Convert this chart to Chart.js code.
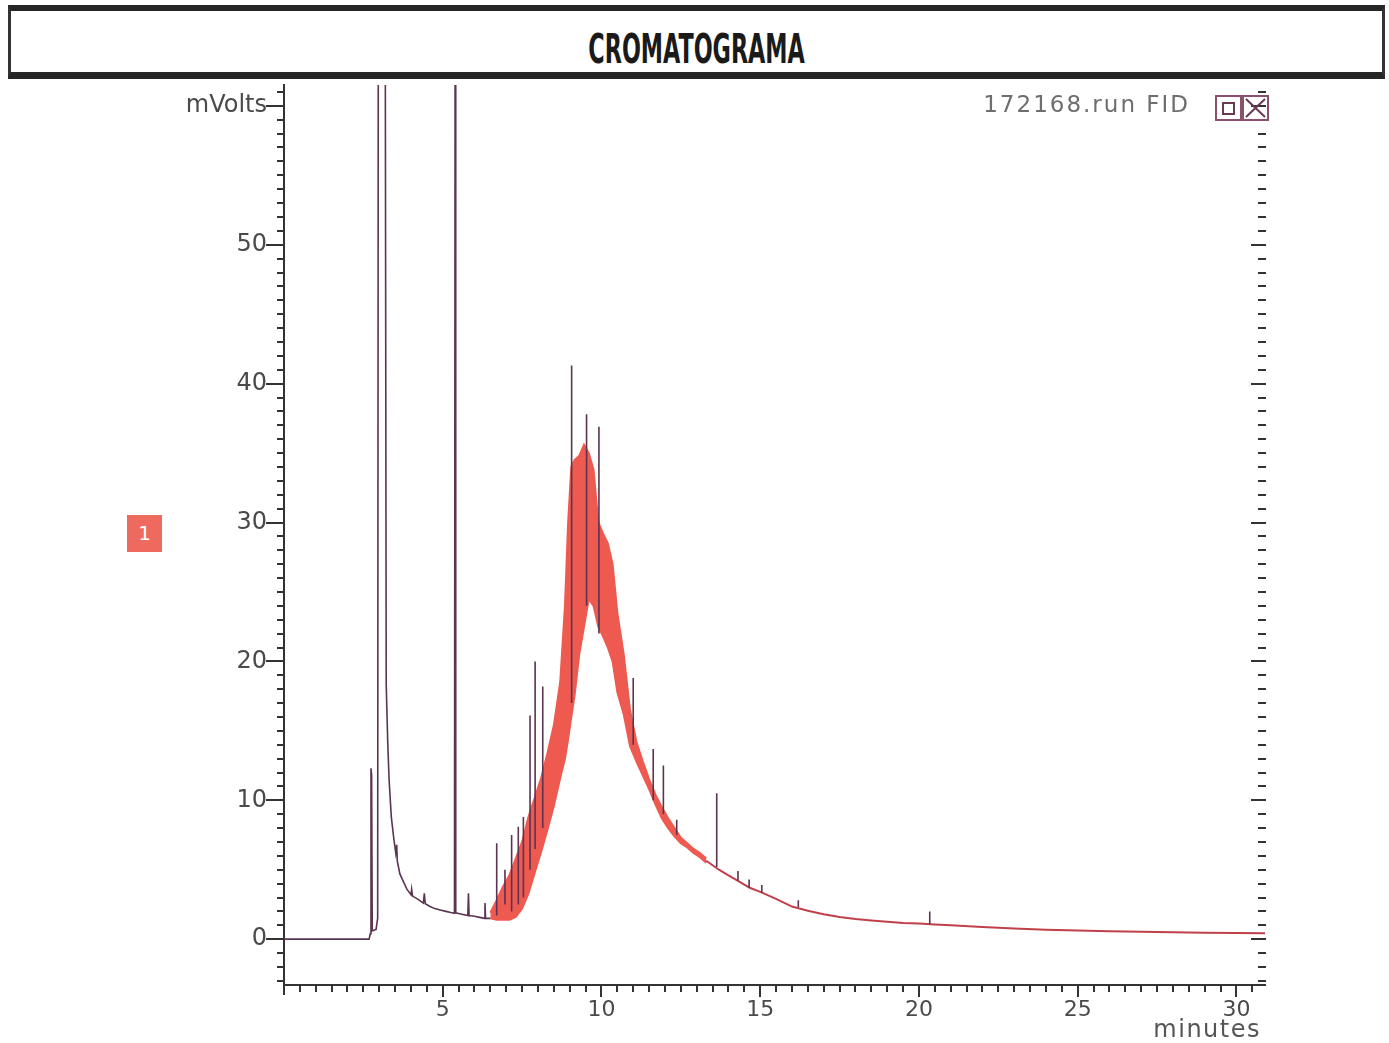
<!DOCTYPE html>
<html>
<head>
<meta charset="utf-8">
<title>Cromatograma</title>
<script src="https://cdn.jsdelivr.net/npm/chart.js@4.4.0/dist/chart.umd.min.js"></script>
<style>
  body { margin: 0; background: #fff; }
  #wrap { position: relative; width: 1389px; height: 1043px; overflow: hidden; }
  #chart { position: absolute; left: 0; top: 0; }
  .titlebox {
    position: absolute; left: 8px; top: 5px; width: 1371px; height: 61px;
    border-top: 6px solid #262626; border-bottom: 7px solid #262626;
    border-left: 3px solid #333; border-right: 3px solid #333;
    text-align: center; background: #fff;
  }
  .titlebox span {
    display: inline-block; margin-top: 15px;
    font-family: "Liberation Sans Narrow", "DejaVu Sans Condensed", sans-serif;
    font-weight: bold; font-size: 40px; color: #1a1a1a;
    transform: scaleX(0.62);
  }
  .runname {
    position: absolute; right: 199px; top: 91px; letter-spacing: 2px;
    font-family: "DejaVu Sans", sans-serif; font-size: 23px; color: #6e6e6e;
  }
  .icons { position: absolute; left: 1215px; top: 95px; }
  .legendbox {
    position: absolute; left: 127px; top: 515px; width: 35px; height: 37px;
    background: #ef6a5e; color: #fff; text-align: center;
    font-family: "DejaVu Sans", sans-serif; font-size: 20px; line-height: 37px;
  }
  .xunit {
    position: absolute; right: 128px; top: 1015px; letter-spacing: 1.5px;
    font-family: "DejaVu Sans", sans-serif; font-size: 24px; color: #555;
  }
</style>
</head>
<body>
<div id="wrap">
  <canvas id="chart" width="1389" height="1043"></canvas>
  <div class="titlebox"><span>CROMATOGRAMA</span></div>
  <div class="runname">172168.run FID</div>
  <div class="icons">
    <svg width="54" height="27" viewBox="0 0 54 27">
      <rect x="1" y="1" width="25" height="24" fill="none" stroke="#8a5070" stroke-width="2"/>
      <rect x="28" y="1" width="25" height="24" fill="none" stroke="#8a5070" stroke-width="2"/>
      <rect x="8" y="8" width="11" height="11" fill="none" stroke="#6a3a55" stroke-width="2"/>
      <path d="M31 4 L50 22 M50 4 L31 22" stroke="#6a3a55" stroke-width="2"/>
    </svg>
  </div>
  <div class="legendbox">1</div>
  <div class="xunit">minutes</div>
</div>
<script>
// early part of the trace (solvent peaks), minutes / mVolts
const traceTime = [0, 2.68, 2.72, 2.74, 2.76, 2.78, 2.9, 2.95, 2.97, 3.19, 3.22, 3.27, 3.31, 3.38, 3.45, 3.52, 3.55, 3.57, 3.65, 3.75, 3.87, 4.0, 4.02, 4.05, 4.2, 4.39, 4.42, 4.45, 4.6, 4.75, 4.92, 5.1, 5.25, 5.37, 5.39, 5.41, 5.6, 5.79, 5.81, 5.83, 6.0, 6.2, 6.31, 6.33, 6.35, 6.5];
const traceMv   = [0, 0, 0.4, 12.3, 11.8, 0.6, 0.7, 1.5, 65, 65, 18.3, 14, 11.5, 8.8, 7.4, 6.2, 6.8, 5.6, 4.7, 4.2, 3.6, 3.2, 3.6, 3.1, 2.9, 2.6, 3.3, 2.55, 2.35, 2.2, 2.1, 2.0, 1.92, 1.87, 65, 1.9, 1.8, 1.7, 3.3, 1.7, 1.65, 1.55, 1.5, 2.6, 1.5, 1.5];

// unresolved hump: upper and lower edge of the red band
const bandTime = [6.5, 6.7, 6.9, 7.1, 7.3, 7.5, 7.7, 7.9, 8.1, 8.3, 8.5, 8.7, 8.85, 8.95, 9.05, 9.15, 9.3, 9.45, 9.6, 9.75, 9.9, 10.05, 10.2, 10.35, 10.5, 10.7, 10.9, 11.1, 11.3, 11.5, 11.7, 11.9, 12.1, 12.3, 12.5, 12.7, 12.9, 13.1, 13.3];
const bandTop  = [1.9, 2.8, 3.8, 4.6, 5.8, 7.0, 8.8, 10.2, 11.6, 13.4, 15.4, 18.5, 24.0, 30.0, 34.0, 34.5, 34.8, 35.6, 35.0, 33.8, 30.0, 29.2, 28.5, 27.0, 23.5, 20.5, 16.5, 14.2, 12.8, 11.5, 10.4, 9.5, 8.7, 8.0, 7.3, 6.9, 6.5, 6.2, 5.8];
const bandLow  = [1.5, 1.4, 1.4, 1.4, 1.6, 2.2, 3.3, 4.8, 6.3, 7.9, 9.6, 11.6, 13.0, 14.4, 16.0, 17.5, 20.5, 22.5, 24.5, 24.0, 22.5, 21.8, 21.0, 20.0, 17.8, 16.2, 13.9, 12.8, 11.8, 10.8, 9.7, 8.7, 8.0, 7.4, 6.9, 6.6, 6.2, 5.9, 5.5];

// decaying baseline after the hump
const tailTime = [13.3, 13.7, 14.0, 14.3, 14.67, 15.0, 15.5, 16.0, 16.5, 17.0, 17.5, 18.0, 18.5, 19.0, 19.5, 20.0, 20.5, 21.0, 22.0, 23.0, 24.0, 25.0, 26.0, 27.0, 28.0, 29.0, 30.0, 30.9];
const tailMv   = [5.65, 5.0, 4.6, 4.2, 3.7, 3.4, 2.9, 2.35, 2.05, 1.8, 1.6, 1.45, 1.35, 1.25, 1.17, 1.12, 1.06, 1.0, 0.88, 0.76, 0.68, 0.62, 0.57, 0.53, 0.5, 0.47, 0.44, 0.42];

// single resolved peaks on top of the hump
const spikeTime = [6.70, 6.96, 7.17, 7.38, 7.54, 7.75, 7.91, 8.15, 9.06, 9.53, 9.92, 11.0, 11.63, 11.95, 12.37, 13.63, 14.3, 14.65, 15.05, 16.2, 20.34];
const spikeBase = [1.7, 2.5, 2.0, 2.5, 3.0, 5.0, 6.5, 8.0, 17, 24, 22, 14, 10, 9, 7.5, 5.2, 4.2, 3.7, 3.35, 2.3, 1.1];
const spikeTop  = [6.9, 5.0, 7.5, 8.1, 8.8, 16.1, 20.0, 18.2, 41.3, 37.8, 36.9, 18.8, 13.7, 12.5, 8.6, 10.5, 4.9, 4.3, 3.9, 2.8, 2.0];

const yMin = -3.3, yMax = 61.5;
const xMin = 0, xMax = 30.9;

const pts = (xs, ys) => xs.map((x, i) => ({ x: x, y: ys[i] }));
let spikePts = [];
spikeTime.forEach((t, i) => {
  spikePts.push({ x: t, y: spikeBase[i] }, { x: t, y: spikeTop[i] }, { x: t, y: null });
});

const red = '#ee5a50';
const dark = '#5a3450';

const tickMarks = {
  id: 'tickMarks',
  afterDraw(chart) {
    const { ctx, chartArea: a, scales: { x, y } } = chart;
    ctx.save();
    ctx.strokeStyle = '#333';
    ctx.lineWidth = 2;
    ctx.beginPath();
    for (let v = -3; v <= 61; v++) {
      const py = Math.round(y.getPixelForValue(v));
      const major = v % 10 === 0;
      ctx.moveTo(a.left - (major ? 18 : 7), py); ctx.lineTo(a.left, py);
      ctx.moveTo(a.right - (major ? 14 : 7), py); ctx.lineTo(a.right + 1, py);
    }
    for (let k = 1; k <= 61; k++) {
      const px = Math.round(x.getPixelForValue(k / 2));
      ctx.moveTo(px, a.bottom); ctx.lineTo(px, a.bottom + (k % 10 === 0 ? 12 : 7));
    }
    ctx.moveTo(a.left, a.bottom); ctx.lineTo(a.left, a.bottom + 10);
    ctx.stroke();
    ctx.restore();
  }
};

new Chart(document.getElementById('chart'), {
  type: 'line',
  data: {
    datasets: [
      { data: spikePts, borderColor: dark, borderWidth: 1.6, spanGaps: false },
      { data: pts(traceTime, traceMv), borderColor: dark, borderWidth: 1.6 },
      { data: pts(tailTime, tailMv), borderColor: '#c0404a', borderWidth: 2 },
      { data: pts(bandTime, bandTop), borderColor: red, borderWidth: 2, fill: '+1', backgroundColor: red },
      { data: pts(bandTime, bandLow), borderColor: red, borderWidth: 2 }
    ]
  },
  options: {
    responsive: false,
    animation: false,
    devicePixelRatio: 1,
    parsing: false,
    elements: { point: { radius: 0 }, line: { tension: 0 } },
    layout: { padding: { top: 85, right: 124, left: 0, bottom: 0 } },
    plugins: { legend: { display: false }, tooltip: { enabled: false } },
    scales: {
      x: {
        type: 'linear', min: xMin, max: xMax,
        afterFit(scale) { scale.height = 58; },
        grid: { display: false, drawTicks: false },
        border: { display: true, color: '#333', width: 2 },
        ticks: {
          stepSize: 5, padding: 12, maxRotation: 0, includeBounds: false,
          color: '#4a4a4a', font: { family: 'DejaVu Sans', size: 22 },
          callback: v => (v === 0 ? '' : String(v))
        }
      },
      y: {
        type: 'linear', min: yMin, max: yMax,
        afterFit(scale) { scale.width = 284; },
        grid: { display: false, drawTicks: false },
        border: { display: true, color: '#333', width: 2 },
        ticks: {
          stepSize: 10, padding: 17, includeBounds: false,
          color: '#4a4a4a', font: { family: 'DejaVu Sans', size: 24 },
          callback: v => (v === 60 ? 'mVolts' : String(v))
        }
      }
    }
  },
  plugins: [tickMarks]
});
</script>
</body>
</html>
